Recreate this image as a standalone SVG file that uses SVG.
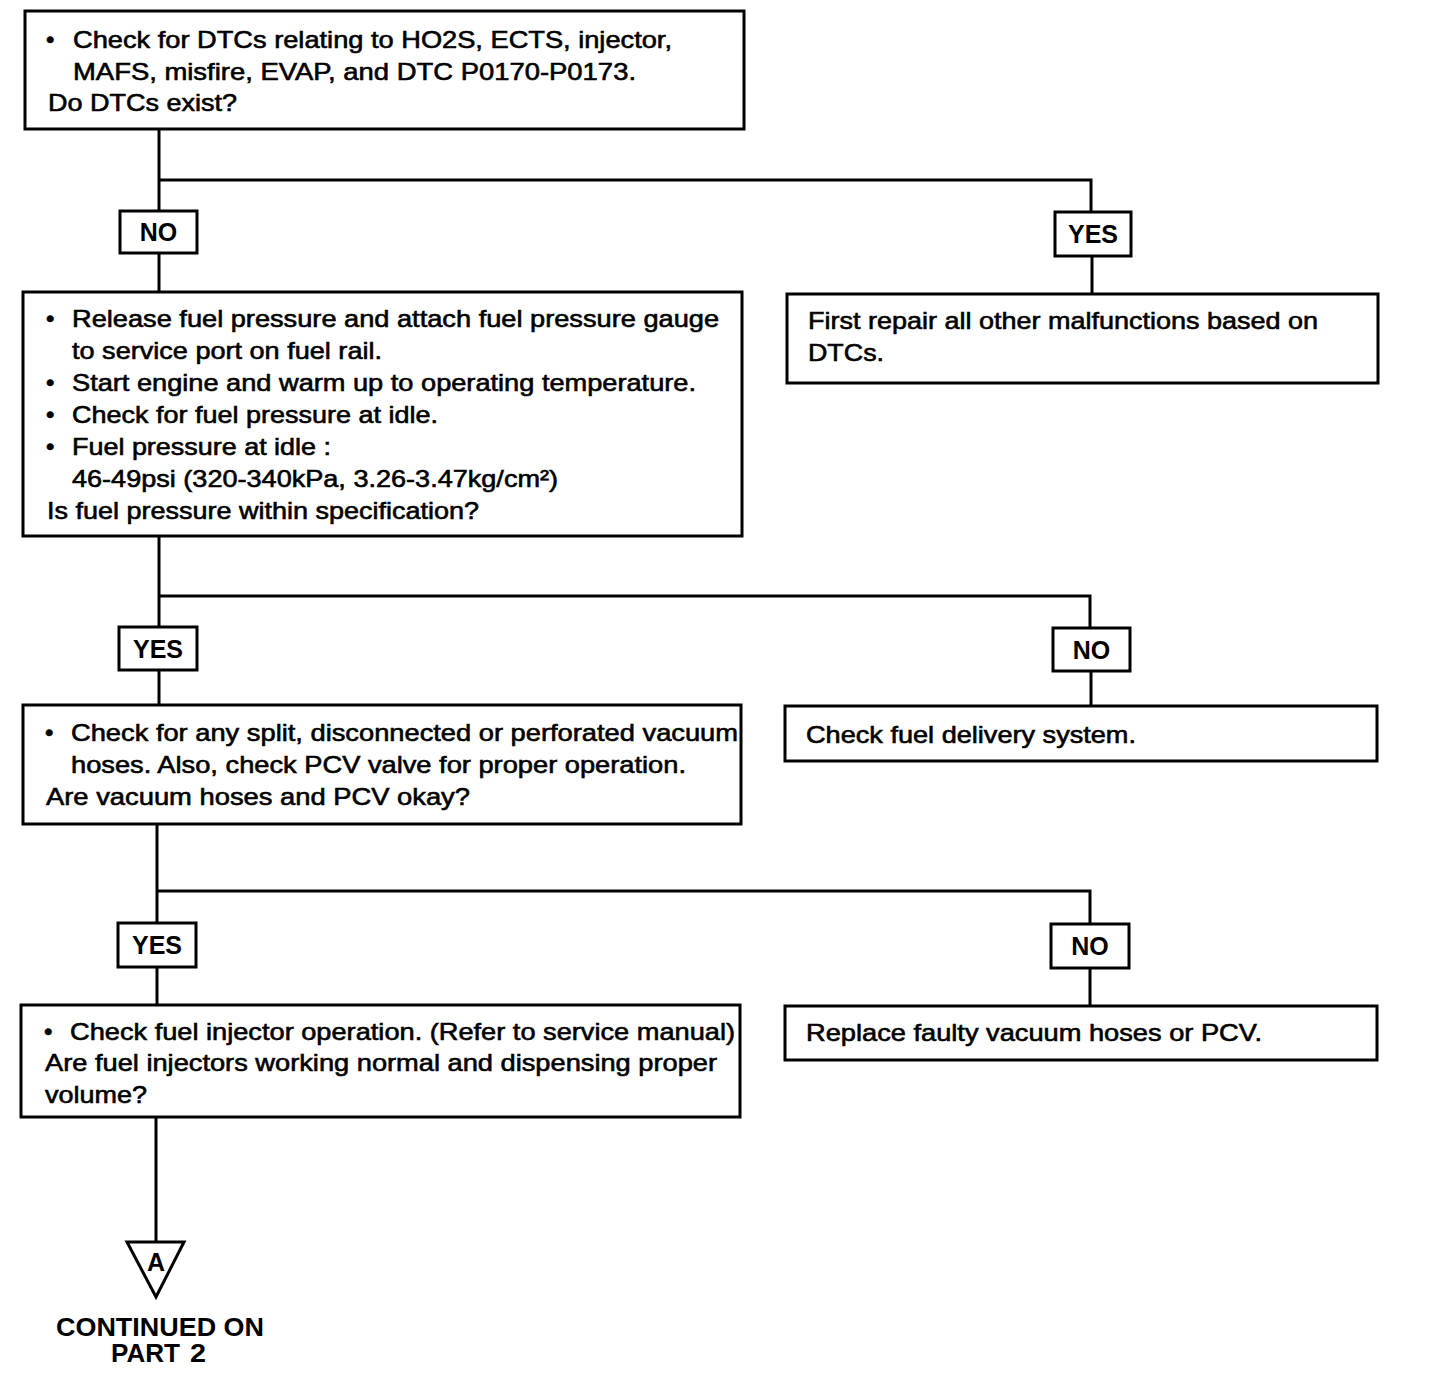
<svg xmlns="http://www.w3.org/2000/svg" width="1440" height="1388" viewBox="0 0 1440 1388">
<style>
.box{fill:#fff;stroke:#000;stroke-width:3}
.lbl{fill:#fff;stroke:#000;stroke-width:3}
.ln{fill:none;stroke:#000;stroke-width:3}
.t{font-family:"Liberation Sans",Arial,sans-serif;font-size:24px;fill:#000;stroke:#000;stroke-width:0.6}
.b{font-family:"Liberation Sans",Arial,sans-serif;font-size:25px;font-weight:bold;fill:#000}
</style>
<rect width="1440" height="1388" fill="#fff"/>
<g id="connectors">
<polyline class="ln" points="159,129 159,211"/>
<polyline class="ln" points="159,180 1091,180 1091,212"/>
<polyline class="ln" points="159,253 159,292"/>
<polyline class="ln" points="1092,256 1092,294"/>
<polyline class="ln" points="159,536 159,627"/>
<polyline class="ln" points="159,596 1090,596 1090,628"/>
<polyline class="ln" points="159,670 159,705"/>
<polyline class="ln" points="1091,671 1091,706"/>
<polyline class="ln" points="157,824 157,923"/>
<polyline class="ln" points="157,891 1090,891 1090,924"/>
<polyline class="ln" points="157,967 157,1005"/>
<polyline class="ln" points="1090,968 1090,1006"/>
<polyline class="ln" points="156,1117 156,1242"/>
</g>
<g id="n1">
<rect class="box" x="25" y="11" width="719" height="118"/>
<text class="t" x="46" y="48">•</text>
<text class="t" x="73" y="48" textLength="599" lengthAdjust="spacingAndGlyphs">Check for DTCs relating to HO2S, ECTS, injector,</text>
<text class="t" x="73" y="80" textLength="563" lengthAdjust="spacingAndGlyphs">MAFS, misfire, EVAP, and DTC P0170-P0173.</text>
<text class="t" x="48" y="111" textLength="189" lengthAdjust="spacingAndGlyphs">Do DTCs exist?</text>
</g>
<g id="l1no">
<rect class="lbl" x="120" y="211" width="77" height="42"/>
<text class="b" x="158.5" y="241" text-anchor="middle">NO</text>
</g>
<g id="l1yes">
<rect class="lbl" x="1055" y="212" width="76" height="44"/>
<text class="b" x="1093" y="243" text-anchor="middle">YES</text>
</g>
<g id="n2">
<rect class="box" x="23" y="292" width="719" height="244"/>
<text class="t" x="46" y="327">•</text>
<text class="t" x="72" y="327" textLength="647" lengthAdjust="spacingAndGlyphs">Release fuel pressure and attach fuel pressure gauge</text>
<text class="t" x="72" y="359" textLength="310" lengthAdjust="spacingAndGlyphs">to service port on fuel rail.</text>
<text class="t" x="46" y="391">•</text>
<text class="t" x="72" y="391" textLength="624" lengthAdjust="spacingAndGlyphs">Start engine and warm up to operating temperature.</text>
<text class="t" x="46" y="423">•</text>
<text class="t" x="72" y="423" textLength="366" lengthAdjust="spacingAndGlyphs">Check for fuel pressure at idle.</text>
<text class="t" x="46" y="455">•</text>
<text class="t" x="72" y="455" textLength="259" lengthAdjust="spacingAndGlyphs">Fuel pressure at idle :</text>
<text class="t" x="72" y="487" textLength="486" lengthAdjust="spacingAndGlyphs">46-49psi (320-340kPa, 3.26-3.47kg/cm²)</text>
<text class="t" x="47" y="519" textLength="432" lengthAdjust="spacingAndGlyphs">Is fuel pressure within specification?</text>
</g>
<g id="n2r">
<rect class="box" x="787" y="294" width="591" height="89"/>
<text class="t" x="808" y="329" textLength="510" lengthAdjust="spacingAndGlyphs">First repair all other malfunctions based on</text>
<text class="t" x="808" y="361" textLength="76" lengthAdjust="spacingAndGlyphs">DTCs.</text>
</g>
<g id="l2yes">
<rect class="lbl" x="119" y="627" width="78" height="43"/>
<text class="b" x="158" y="658" text-anchor="middle">YES</text>
</g>
<g id="l2no">
<rect class="lbl" x="1053" y="628" width="77" height="43"/>
<text class="b" x="1091.5" y="659" text-anchor="middle">NO</text>
</g>
<g id="n3">
<rect class="box" x="23" y="705" width="718" height="119"/>
<text class="t" x="45" y="741">•</text>
<text class="t" x="71" y="741" textLength="667" lengthAdjust="spacingAndGlyphs">Check for any split, disconnected or perforated vacuum</text>
<text class="t" x="71" y="773" textLength="615" lengthAdjust="spacingAndGlyphs">hoses. Also, check PCV valve for proper operation.</text>
<text class="t" x="46" y="805" textLength="424" lengthAdjust="spacingAndGlyphs">Are vacuum hoses and PCV okay?</text>
</g>
<g id="n3r">
<rect class="box" x="785" y="706" width="592" height="55"/>
<text class="t" x="806" y="743" textLength="330" lengthAdjust="spacingAndGlyphs">Check fuel delivery system.</text>
</g>
<g id="l3yes">
<rect class="lbl" x="118" y="923" width="78" height="44"/>
<text class="b" x="157" y="954" text-anchor="middle">YES</text>
</g>
<g id="l3no">
<rect class="lbl" x="1051" y="924" width="78" height="44"/>
<text class="b" x="1090" y="955" text-anchor="middle">NO</text>
</g>
<g id="n4">
<rect class="box" x="21" y="1005" width="719" height="112"/>
<text class="t" x="44" y="1040">•</text>
<text class="t" x="70" y="1040" textLength="665" lengthAdjust="spacingAndGlyphs">Check fuel injector operation. (Refer to service manual)</text>
<text class="t" x="45" y="1071" textLength="672" lengthAdjust="spacingAndGlyphs">Are fuel injectors working normal and dispensing proper</text>
<text class="t" x="45" y="1103" textLength="102" lengthAdjust="spacingAndGlyphs">volume?</text>
</g>
<g id="n4r">
<rect class="box" x="785" y="1006" width="592" height="54"/>
<text class="t" x="806" y="1041" textLength="456" lengthAdjust="spacingAndGlyphs">Replace faulty vacuum hoses or PCV.</text>
</g>
<g id="connA">
<polygon points="127,1242 184,1242 156,1297" fill="#fff" stroke="#000" stroke-width="3" stroke-linejoin="miter"/>
<text class="b" x="156" y="1271" text-anchor="middle" font-size="21">A</text>
<text class="b" x="56" y="1336" textLength="208" lengthAdjust="spacingAndGlyphs">CONTINUED ON</text>
<text class="b" x="111" y="1362" textLength="69" lengthAdjust="spacingAndGlyphs">PART</text>
<text class="b" x="190" y="1362" textLength="16" lengthAdjust="spacingAndGlyphs">2</text>
</g>
</svg>
